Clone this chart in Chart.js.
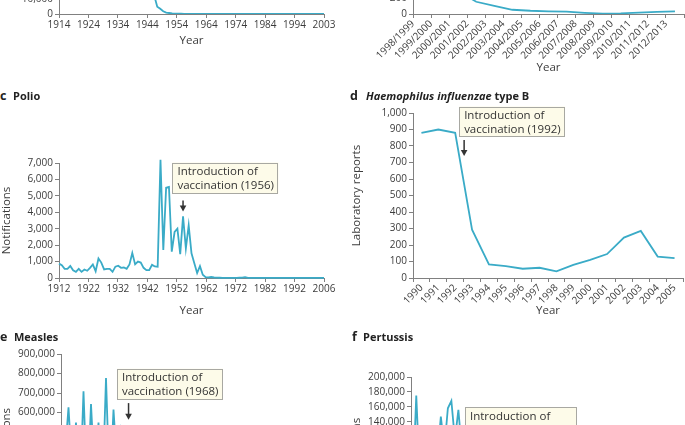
<!DOCTYPE html>
<html>
<head>
<meta charset="utf-8">
<script src="https://cdn.jsdelivr.net/npm/chart.js@4.4.0/dist/chart.umd.min.js"></script>
<style>
  html, body { margin: 0; padding: 0; background: #fff; }
  body { width: 685px; height: 425px; overflow: hidden; position: relative; font-family: "Open Sans", sans-serif; }
  .panel { position: absolute; }
  .panel canvas { display: block; }
  .lt, .nm { position: absolute; line-height: 14px; font-weight: 700; color: #222; white-space: nowrap; z-index: 2; }
  .lt { font-size: 12.5px; }
  .nm { font-size: 11px; }
</style>
</head>
<body>

<div class="panel" style="left:0;top:-110px"><canvas id="chartA" width="340" height="160"></canvas></div>
<div class="panel" style="left:340px;top:-90px"><canvas id="chartB" width="345" height="167"></canvas></div>
<div class="panel" style="left:0;top:150px"><canvas id="chartC" width="340" height="170"></canvas></div>
<div class="panel" style="left:340px;top:100px"><canvas id="chartD" width="345" height="220"></canvas></div>
<div class="panel" style="left:0;top:340px"><canvas id="chartE" width="340" height="232"></canvas></div>
<div class="panel" style="left:340px;top:360px"><canvas id="chartF" width="345" height="208"></canvas></div>

<div class="lt" style="left:0;top:89px">c</div>
<div class="nm" style="left:13px;top:89px">Polio</div>
<div class="lt" style="left:350px;top:89px">d</div>
<div class="nm" style="left:366px;top:89px"><i>Haemophilus influenzae</i> type B</div>
<div class="lt" style="left:0;top:330px">e</div>
<div class="nm" style="left:14px;top:330px">Measles</div>
<div class="lt" style="left:352px;top:330px">f</div>
<div class="nm" style="left:363px;top:330px">Pertussis</div>

<script>
// panel a (top left, mostly off the page)
const diphStart = 1914;
const diphValues = [
  54000, 57000, 53000, 49000, 47000, 56000, 64000, 69000, 58000, 49000,
  46000, 51000, 50000, 53000, 56000, 61000, 66000, 57000, 56000, 62000,
  64000, 59000, 59000, 62000, 65000, 47000, 46000, 51000, 42000, 35000,
  24000, 18600, 11900, 4800, 3400, 1800, 960, 660, 380, 270,
  170, 160, 50, 40, 80, 100, 10,
  10, 12, 8, 6, 10, 8, 5, 4, 3, 5,
  10, 5, 4, 3, 3, 2, 3, 4, 2, 3,
  5, 3, 2, 2, 3, 2, 2, 3, 2, 2,
  2, 3, 2, 2, 3, 2, 2, 3, 2, 2,
  2, 3, 2
];
const diphTicks = ['1914', '1924', '1934', '1944', '1954', '1964', '1974', '1984', '1994', '2003'];

// panel b (top right, mostly off the page)
const seasons = ['1998/1999', '1999/2000', '2000/2001', '2001/2002', '2002/2003', '2003/2004', '2004/2005',
  '2005/2006', '2006/2007', '2007/2008', '2008/2009', '2009/2010', '2010/2011', '2011/2012', '2012/2013'];
const seasonValues = [600, 450, 280, 150, 100, 52, 40, 33, 28, 15, 5, 8, 18, 25, 32];

// panel c
const polioStart = 1912;
const polioValues = [
  875, 780, 560, 560, 730, 470, 375, 560, 375, 520,
  440, 620, 830, 415, 1190, 940, 520, 560, 560, 375,
  690, 750, 620, 640, 560, 830, 1520, 830, 1000, 940,
  620, 480, 480, 800, 700, 680,
  7200, 1700, 5500, 5550, 1600, 2800, 3000, 1450, 3750, 1800, 3200, 1500, 900, 300,
  720, 200, 50, 40, 60, 30, 20, 15, 10, 10,
  8, 10, 12, 10, 15, 20, 50, 10, 8, 6,
  5, 5, 6, 5, 4, 5, 4, 3, 3, 2,
  2, 2, 2, 2, 2, 2, 2, 2, 2, 2,
  2, 2, 2, 2, 2
];
const polioTicks = ['1912', '1922', '1932', '1942', '1952', '1962', '1972', '1982', '1992', '2006'];

// panel d
const hibYears = ['1990', '1991', '1992', '1993', '1994', '1995', '1996', '1997',
  '1998', '1999', '2000', '2001', '2002', '2003', '2004', '2005'];
const hibValues = [880, 900, 880, 293, 82, 72, 56, 62, 40, 80, 110, 145, 245, 285, 130, 120];

// panel e
const measlesStart = 1950;
const measlesValues = [
  368000, 627000, 291000, 548000, 147000, 709000, 161000, 644000, 259000, 548000,
  159000, 777000, 185000, 615000, 307000, 502000, 344000, 460000, 236000, 144000,
  307000, 135000, 145000, 146000, 110000, 144000, 55000, 182000, 125000, 78000,
  140000, 52000, 95000, 104000, 63000, 98000, 83000, 43000, 86000, 27000,
  13000, 9700, 10300, 9600, 16400, 7400, 5600, 3900, 3700, 2400,
  2400, 2300, 3000, 2500, 2400, 2100, 3700, 3700, 5100, 5200,
  2200, 2400, 4200, 6200
];

// panel f
const pertStart = 1940;
const pertValues = [
  53000, 175000, 66000, 96000, 94000, 62000, 92000, 93000, 147000, 104000,
  158000, 168000, 116000, 156000, 99000, 79000, 92000, 87000, 33000, 33000,
  58000, 26000, 8000, 38000, 35000, 13000, 19000, 36000, 10000, 5000,
  16000, 17000, 2000, 2400, 16000, 8900, 4300, 22000, 66000, 31000,
  21000, 17000, 66000, 20000, 5000, 23000, 36000, 17000, 5000, 11000,
  16000, 5000, 2000, 4000, 5000, 2000, 2500, 2500, 1500, 1100,
  700, 700, 500, 500, 500, 600, 600, 1000, 1500, 1000,
  500, 1000, 9700, 4400
];

const FONT = '"Open Sans", sans-serif';
const LINE = '#3aabc7';
const AXIS = '#808080';
const TEXT = '#3c3c3c';

Chart.defaults.font.family = FONT;

function toPoints(start, values) {
  return values.map((v, i) => ({ x: start + i, y: v }));
}

// arrow + cream box with the vaccination note
const vaccineNote = {
  id: 'vaccineNote',
  afterDatasetsDraw(chart, args, o) {
    const { ctx, chartArea } = chart;
    const ax = chart.scales.x.getPixelForValue(o.at) + o.dx;
    const bx = ax + o.boxDx;
    const by = chartArea.top + o.boxDy;
    ctx.save();
    ctx.fillStyle = '#fdfbe9';
    ctx.fillRect(bx, by, o.w, o.h);
    ctx.strokeStyle = '#a8a8a2';
    ctx.lineWidth = 1;
    ctx.strokeRect(Math.round(bx) + 0.5, Math.round(by) + 0.5, Math.round(o.w) - 1, Math.round(o.h) - 1);
    ctx.fillStyle = '#333';
    ctx.font = '11.5px ' + FONT;
    ctx.textBaseline = 'middle';
    o.lines.forEach((t, i) => ctx.fillText(t, bx + 5, by + 9.5 + i * 13.7));
    const y1 = by + o.h + o.gap;
    const y2 = y1 + o.len;
    ctx.strokeStyle = '#333';
    ctx.lineWidth = 1.5;
    ctx.beginPath();
    ctx.moveTo(ax, y1);
    ctx.lineTo(ax, y2 - 5);
    ctx.stroke();
    ctx.beginPath();
    ctx.moveTo(ax - 3.3, y2 - 6);
    ctx.lineTo(ax + 3.3, y2 - 6);
    ctx.lineTo(ax, y2);
    ctx.closePath();
    ctx.fill();
    ctx.restore();
  }
};

function yAxis(o) {
  return {
    min: 0,
    max: o.max,
    afterFit: s => { s.width = o.width; },
    border: { color: AXIS },
    grid: { drawOnChartArea: false, tickLength: 4, color: AXIS },
    ticks: { stepSize: o.step, color: TEXT, font: { size: 10 }, padding: 2, autoSkip: false },
    title: o.title
      ? { display: true, text: o.title, color: TEXT, font: { size: 11.5 }, padding: { top: o.titlePad, bottom: 0 } }
      : { display: false }
  };
}

function xAxis(o) {
  const ax = {
    type: o.type,
    offset: !!o.offset,
    afterFit: s => { s.height = o.height; },
    border: { color: AXIS },
    grid: { drawOnChartArea: false, tickLength: 4, color: AXIS, offset: !!o.offset },
    ticks: {
      color: TEXT, font: { size: 10 }, padding: o.rot ? 0 : 1,
      autoSkip: false, maxRotation: o.rot || 0, minRotation: o.rot || 0,
      labelOffset: o.labelOffset || 0
    },
    title: { display: true, text: 'Year', color: TEXT, font: { size: 11.5 }, padding: { top: 0, bottom: 2 } }
  };
  if (o.type === 'linear') {
    ax.min = o.min;
    ax.max = o.max;
    ax.ticks.callback = v => String(v);
    ax.ticks.autoSkip = true;
  }
  if (o.tickLabels) {
    const labels = o.tickLabels;
    ax.afterBuildTicks = s => {
      const n = labels.length - 1;
      s.ticks = labels.map((l, i) => ({ value: s.min + i * (s.max - s.min) / n }));
    };
    ax.ticks.callback = (v, i) => labels[i];
    ax.ticks.autoSkip = false;
  }
  return ax;
}

function options(o) {
  return {
    responsive: false,
    animation: false,
    devicePixelRatio: 1,
    layout: { padding: { top: o.padTop, right: o.padRight, left: 0, bottom: 0 } },
    plugins: { legend: { display: false }, tooltip: { enabled: false }, vaccineNote: o.note },
    scales: { x: o.x, y: o.y }
  };
}

function series(data, extra) {
  return Object.assign({
    data: data,
    borderColor: LINE,
    borderWidth: 1.8,
    pointRadius: 0,
    fill: false,
    tension: 0
  }, extra || {});
}

// a
new Chart(document.getElementById('chartA'), {
  type: 'line',
  data: { datasets: [series(toPoints(diphStart, diphValues))] },
  options: options({
    padTop: 17, padRight: 16,
    x: xAxis({ type: 'linear', min: 1914, max: 2003, height: 36, tickLabels: diphTicks }),
    y: yAxis({ max: 70000, step: 10000, width: 59 })
  })
});

// b
new Chart(document.getElementById('chartB'), {
  type: 'line',
  data: { labels: seasons, datasets: [series(seasonValues)] },
  options: options({
    padTop: 22.5, padRight: 1,
    x: xAxis({ type: 'category', offset: true, rot: 45, labelOffset: -9, height: 63 }),
    y: yAxis({ max: 1000, step: 200, width: 73 })
  })
});

// c
new Chart(document.getElementById('chartC'), {
  type: 'line',
  data: { datasets: [series(toPoints(polioStart, polioValues), { clip: false })] },
  options: options({
    padTop: 13, padRight: 16,
    x: xAxis({ type: 'linear', min: 1912, max: 2006, height: 42, tickLabels: polioTicks }),
    y: yAxis({ max: 7000, step: 1000, width: 59, title: 'Notifications', titlePad: 0 }),
    note: { at: 1956, dx: 0, boxDx: -10.6, boxDy: -0.5, w: 106, h: 31, gap: 7, len: 11,
            lines: ['Introduction of', 'vaccination (1956)'] }
  }),
  plugins: [vaccineNote]
});

// d
new Chart(document.getElementById('chartD'), {
  type: 'line',
  data: { labels: hibYears, datasets: [series(hibValues)] },
  options: options({
    padTop: 13, padRight: 2,
    x: xAxis({ type: 'category', offset: true, rot: 45, height: 42 }),
    y: yAxis({ max: 1000, step: 100, width: 73, title: 'Laboratory reports', titlePad: 10 }),
    note: { at: 2.5, dx: 0.5, boxDx: -5, boxDy: -6.5, w: 106, h: 30, gap: 3.5, len: 16,
            lines: ['Introduction of', 'vaccination (1992)'] }
  }),
  plugins: [vaccineNote]
});

// e
new Chart(document.getElementById('chartE'), {
  type: 'line',
  data: { datasets: [series(toPoints(measlesStart, measlesValues))] },
  options: options({
    padTop: 14, padRight: 16.5,
    x: xAxis({ type: 'linear', min: 1949, max: 2019, height: 42.5 }),
    y: yAxis({ max: 900000, step: 100000, width: 61, title: 'Notifications', titlePad: 0 }),
    note: { at: 1968, dx: -3.7, boxDx: -11.6, boxDy: 14.7, w: 106, h: 31, gap: 3.4, len: 16.6,
            lines: ['Introduction of', 'vaccination (1968)'] }
  }),
  plugins: [vaccineNote]
});

// f
new Chart(document.getElementById('chartF'), {
  type: 'line',
  data: { datasets: [series(toPoints(pertStart, pertValues))] },
  options: options({
    padTop: 17, padRight: 11,
    x: xAxis({ type: 'linear', min: 1939.5, max: 2014, height: 42 }),
    y: yAxis({ max: 200000, step: 20000, width: 71, title: 'Notifications', titlePad: 10 }),
    note: { at: 1957, dx: 0, boxDx: -7.5, boxDy: 30, w: 112, h: 31, gap: 4, len: 16,
            lines: ['Introduction of', 'vaccination (1957)'] }
  }),
  plugins: [vaccineNote]
});
</script>
</body>
</html>
